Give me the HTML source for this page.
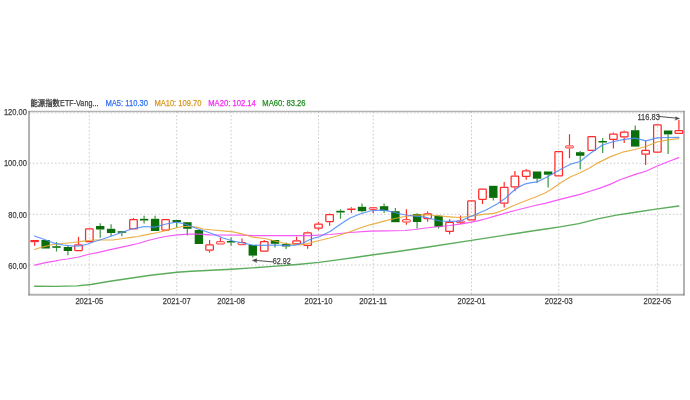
<!DOCTYPE html>
<html lang="zh"><head><meta charset="utf-8"><title>K线图</title>
<style>html,body{margin:0;padding:0;background:#fff}body{width:690px;height:400px;overflow:hidden}</style>
</head><body>
<svg width="690" height="400" viewBox="0 0 690 400" style="display:block;will-change:transform;filter:blur(0.3px)">
<g stroke="#cdcdcd" stroke-width="1" stroke-dasharray="1.7,2.0" fill="none">
<line x1="29.0" y1="163.2" x2="684.0" y2="163.2"/>
<line x1="29.0" y1="214.3" x2="684.0" y2="214.3"/>
<line x1="29.0" y1="265.0" x2="684.0" y2="265.0"/>
<line x1="29.0" y1="113.0" x2="684.0" y2="113.0" stroke="#d8d8d8"/>
<line x1="89.3" y1="111.4" x2="89.3" y2="294.3"/>
<line x1="176.7" y1="111.4" x2="176.7" y2="294.3"/>
<line x1="231.1" y1="111.4" x2="231.1" y2="294.3"/>
<line x1="318.5" y1="111.4" x2="318.5" y2="294.3"/>
<line x1="373.2" y1="111.4" x2="373.2" y2="294.3"/>
<line x1="471.5" y1="111.4" x2="471.5" y2="294.3"/>
<line x1="558.7" y1="111.4" x2="558.7" y2="294.3"/>
<line x1="657.4" y1="111.4" x2="657.4" y2="294.3"/>
</g>
<line x1="34.6" y1="242.2" x2="34.6" y2="245.8" stroke="#ff2a2a" stroke-width="1.2"/>
<rect x="30.4" y="240.0" width="8.4" height="2.2" fill="#ff2a2a"/>
<rect x="41.4" y="240.0" width="8.4" height="8.5" fill="#0a6e0a"/>
<line x1="56.5" y1="242.0" x2="56.5" y2="246.2" stroke="#3a963a" stroke-width="1.2"/>
<line x1="56.5" y1="247.8" x2="56.5" y2="251.5" stroke="#3a963a" stroke-width="1.2"/>
<rect x="52.3" y="246.2" width="8.4" height="1.6" fill="#0a6e0a"/>
<line x1="67.9" y1="245.5" x2="67.9" y2="247.0" stroke="#3a963a" stroke-width="1.2"/>
<line x1="67.9" y1="251.0" x2="67.9" y2="255.2" stroke="#3a963a" stroke-width="1.2"/>
<rect x="63.7" y="247.0" width="8.4" height="4.0" fill="#0a6e0a"/>
<line x1="78.5" y1="236.8" x2="78.5" y2="244.2" stroke="#ff2a2a" stroke-width="1.2"/>
<rect x="74.72" y="244.82" width="7.55" height="5.75" rx="0.7" fill="none" stroke="#ff2a2a" stroke-width="1.25"/>
<rect x="85.57" y="228.82" width="7.55" height="12.75" rx="0.7" fill="none" stroke="#ff2a2a" stroke-width="1.25"/>
<line x1="100.2" y1="223.2" x2="100.2" y2="226.0" stroke="#3a963a" stroke-width="1.2"/>
<line x1="100.2" y1="229.5" x2="100.2" y2="237.8" stroke="#3a963a" stroke-width="1.2"/>
<rect x="96.0" y="226.0" width="8.4" height="3.5" fill="#0a6e0a"/>
<line x1="111.1" y1="224.2" x2="111.1" y2="228.8" stroke="#3a963a" stroke-width="1.2"/>
<line x1="111.1" y1="233.0" x2="111.1" y2="236.2" stroke="#3a963a" stroke-width="1.2"/>
<rect x="106.9" y="228.8" width="8.4" height="4.2" fill="#0a6e0a"/>
<line x1="121.9" y1="232.8" x2="121.9" y2="236.2" stroke="#3a963a" stroke-width="1.2"/>
<rect x="117.7" y="231.2" width="8.4" height="1.6" fill="#0a6e0a"/>
<line x1="133.5" y1="218.0" x2="133.5" y2="219.0" stroke="#ff2a2a" stroke-width="1.2"/>
<rect x="129.72" y="219.62" width="7.55" height="9.25" rx="0.7" fill="none" stroke="#ff2a2a" stroke-width="1.25"/>
<line x1="144.1" y1="215.8" x2="144.1" y2="218.8" stroke="#3a963a" stroke-width="1.2"/>
<line x1="144.1" y1="220.5" x2="144.1" y2="223.5" stroke="#3a963a" stroke-width="1.2"/>
<rect x="139.9" y="218.8" width="8.4" height="1.7" fill="#0a6e0a"/>
<line x1="155.1" y1="215.8" x2="155.1" y2="218.8" stroke="#3a963a" stroke-width="1.2"/>
<rect x="150.9" y="218.8" width="8.4" height="12.2" fill="#0a6e0a"/>
<rect x="161.82" y="219.62" width="7.55" height="10.45" rx="0.7" fill="none" stroke="#ff2a2a" stroke-width="1.25"/>
<line x1="176.7" y1="222.2" x2="176.7" y2="227.5" stroke="#3a963a" stroke-width="1.2"/>
<rect x="172.5" y="220.0" width="8.4" height="2.2" fill="#0a6e0a"/>
<line x1="187.3" y1="228.8" x2="187.3" y2="235.5" stroke="#3a963a" stroke-width="1.2"/>
<rect x="183.2" y="222.2" width="8.4" height="6.6" fill="#0a6e0a"/>
<line x1="198.9" y1="229.2" x2="198.9" y2="230.0" stroke="#3a963a" stroke-width="1.2"/>
<rect x="194.7" y="230.0" width="8.4" height="14.0" fill="#0a6e0a"/>
<line x1="209.6" y1="240.0" x2="209.6" y2="244.3" stroke="#ff2a2a" stroke-width="1.2"/>
<line x1="209.6" y1="250.8" x2="209.6" y2="252.6" stroke="#ff2a2a" stroke-width="1.2"/>
<rect x="205.82" y="244.93" width="7.55" height="5.25" rx="0.7" fill="none" stroke="#ff2a2a" stroke-width="1.25"/>
<line x1="220.4" y1="237.5" x2="220.4" y2="241.2" stroke="#ff2a2a" stroke-width="1.2"/>
<rect x="216.50" y="241.70" width="7.80" height="2.30" rx="0.5" fill="none" stroke="#ff2a2a" stroke-width="1.0"/>
<line x1="231.1" y1="237.5" x2="231.1" y2="241.0" stroke="#3a963a" stroke-width="1.2"/>
<line x1="231.1" y1="242.5" x2="231.1" y2="245.8" stroke="#3a963a" stroke-width="1.2"/>
<rect x="226.9" y="241.0" width="8.4" height="1.5" fill="#0a6e0a"/>
<line x1="242.0" y1="238.5" x2="242.0" y2="242.0" stroke="#ff2a2a" stroke-width="1.2"/>
<rect x="238.10" y="242.50" width="7.80" height="2.20" rx="0.5" fill="none" stroke="#ff2a2a" stroke-width="1.0"/>
<line x1="252.8" y1="255.6" x2="252.8" y2="257.6" stroke="#3a963a" stroke-width="1.2"/>
<rect x="248.6" y="245.0" width="8.4" height="10.6" fill="#0a6e0a"/>
<line x1="264.2" y1="240.0" x2="264.2" y2="241.0" stroke="#ff2a2a" stroke-width="1.2"/>
<rect x="260.48" y="241.62" width="7.55" height="9.55" rx="0.7" fill="none" stroke="#ff2a2a" stroke-width="1.25"/>
<line x1="275.0" y1="243.8" x2="275.0" y2="247.5" stroke="#3a963a" stroke-width="1.2"/>
<rect x="270.8" y="240.0" width="8.4" height="3.8" fill="#0a6e0a"/>
<line x1="286.1" y1="242.5" x2="286.1" y2="244.0" stroke="#3a963a" stroke-width="1.2"/>
<line x1="286.1" y1="246.5" x2="286.1" y2="249.0" stroke="#3a963a" stroke-width="1.2"/>
<rect x="281.9" y="244.0" width="8.4" height="2.5" fill="#0a6e0a"/>
<line x1="296.6" y1="236.8" x2="296.6" y2="240.2" stroke="#ff2a2a" stroke-width="1.2"/>
<rect x="292.83" y="240.82" width="7.55" height="3.05" rx="0.7" fill="none" stroke="#ff2a2a" stroke-width="1.25"/>
<line x1="307.6" y1="231.5" x2="307.6" y2="232.2" stroke="#ff2a2a" stroke-width="1.2"/>
<line x1="307.6" y1="246.0" x2="307.6" y2="248.8" stroke="#ff2a2a" stroke-width="1.2"/>
<rect x="303.83" y="232.82" width="7.55" height="12.55" rx="0.7" fill="none" stroke="#ff2a2a" stroke-width="1.25"/>
<line x1="318.5" y1="221.8" x2="318.5" y2="223.5" stroke="#ff2a2a" stroke-width="1.2"/>
<line x1="318.5" y1="228.8" x2="318.5" y2="230.2" stroke="#ff2a2a" stroke-width="1.2"/>
<rect x="314.73" y="224.12" width="7.55" height="4.05" rx="0.7" fill="none" stroke="#ff2a2a" stroke-width="1.25"/>
<line x1="329.6" y1="213.5" x2="329.6" y2="214.0" stroke="#ff2a2a" stroke-width="1.2"/>
<line x1="329.6" y1="222.2" x2="329.6" y2="225.8" stroke="#ff2a2a" stroke-width="1.2"/>
<rect x="325.83" y="214.62" width="7.55" height="6.95" rx="0.7" fill="none" stroke="#ff2a2a" stroke-width="1.25"/>
<line x1="340.5" y1="209.2" x2="340.5" y2="210.8" stroke="#3a963a" stroke-width="1.2"/>
<line x1="340.5" y1="212.5" x2="340.5" y2="218.8" stroke="#3a963a" stroke-width="1.2"/>
<rect x="336.3" y="210.8" width="8.4" height="1.7" fill="#0a6e0a"/>
<line x1="351.4" y1="207.2" x2="351.4" y2="208.5" stroke="#ff2a2a" stroke-width="1.2"/>
<line x1="351.4" y1="210.0" x2="351.4" y2="213.0" stroke="#ff2a2a" stroke-width="1.2"/>
<rect x="347.2" y="208.5" width="8.4" height="1.5" fill="#ff2a2a"/>
<line x1="362.0" y1="203.5" x2="362.0" y2="206.8" stroke="#3a963a" stroke-width="1.2"/>
<line x1="362.0" y1="211.2" x2="362.0" y2="212.5" stroke="#3a963a" stroke-width="1.2"/>
<rect x="357.8" y="206.8" width="8.4" height="4.4" fill="#0a6e0a"/>
<line x1="373.2" y1="209.8" x2="373.2" y2="213.2" stroke="#ff2a2a" stroke-width="1.2"/>
<rect x="369.35" y="207.70" width="7.80" height="1.60" rx="0.5" fill="none" stroke="#ff2a2a" stroke-width="1.0"/>
<line x1="384.1" y1="203.5" x2="384.1" y2="206.2" stroke="#3a963a" stroke-width="1.2"/>
<line x1="384.1" y1="210.8" x2="384.1" y2="213.0" stroke="#3a963a" stroke-width="1.2"/>
<rect x="379.9" y="206.2" width="8.4" height="4.6" fill="#0a6e0a"/>
<line x1="395.4" y1="208.0" x2="395.4" y2="211.2" stroke="#3a963a" stroke-width="1.2"/>
<rect x="391.2" y="211.2" width="8.4" height="11.0" fill="#0a6e0a"/>
<line x1="406.4" y1="209.2" x2="406.4" y2="219.2" stroke="#ff2a2a" stroke-width="1.2"/>
<line x1="406.4" y1="222.5" x2="406.4" y2="224.8" stroke="#ff2a2a" stroke-width="1.2"/>
<rect x="402.50" y="219.70" width="7.80" height="2.30" rx="0.5" fill="none" stroke="#ff2a2a" stroke-width="1.0"/>
<line x1="417.1" y1="213.2" x2="417.1" y2="214.0" stroke="#3a963a" stroke-width="1.2"/>
<line x1="417.1" y1="222.0" x2="417.1" y2="228.5" stroke="#3a963a" stroke-width="1.2"/>
<rect x="412.9" y="214.0" width="8.4" height="8.0" fill="#0a6e0a"/>
<line x1="427.6" y1="211.5" x2="427.6" y2="213.2" stroke="#ff2a2a" stroke-width="1.2"/>
<line x1="427.6" y1="219.2" x2="427.6" y2="221.8" stroke="#ff2a2a" stroke-width="1.2"/>
<rect x="423.83" y="213.82" width="7.55" height="4.75" rx="0.7" fill="none" stroke="#ff2a2a" stroke-width="1.25"/>
<line x1="438.6" y1="215.0" x2="438.6" y2="215.8" stroke="#3a963a" stroke-width="1.2"/>
<line x1="438.6" y1="226.8" x2="438.6" y2="228.5" stroke="#3a963a" stroke-width="1.2"/>
<rect x="434.4" y="215.8" width="8.4" height="11.0" fill="#0a6e0a"/>
<line x1="449.6" y1="219.2" x2="449.6" y2="221.8" stroke="#ff2a2a" stroke-width="1.2"/>
<line x1="449.6" y1="232.0" x2="449.6" y2="234.2" stroke="#ff2a2a" stroke-width="1.2"/>
<rect x="445.83" y="222.43" width="7.55" height="8.95" rx="0.7" fill="none" stroke="#ff2a2a" stroke-width="1.25"/>
<line x1="460.5" y1="215.5" x2="460.5" y2="220.5" stroke="#ff2a2a" stroke-width="1.2"/>
<line x1="460.5" y1="223.2" x2="460.5" y2="224.0" stroke="#ff2a2a" stroke-width="1.2"/>
<rect x="456.60" y="221.00" width="7.80" height="1.70" rx="0.5" fill="none" stroke="#ff2a2a" stroke-width="1.0"/>
<rect x="467.73" y="200.82" width="7.55" height="19.05" rx="0.7" fill="none" stroke="#ff2a2a" stroke-width="1.25"/>
<line x1="482.5" y1="199.9" x2="482.5" y2="204.0" stroke="#ff2a2a" stroke-width="1.2"/>
<rect x="478.73" y="189.22" width="7.55" height="10.05" rx="0.7" fill="none" stroke="#ff2a2a" stroke-width="1.25"/>
<line x1="493.3" y1="197.9" x2="493.3" y2="200.4" stroke="#3a963a" stroke-width="1.2"/>
<rect x="489.1" y="185.8" width="8.4" height="12.1" fill="#0a6e0a"/>
<line x1="504.2" y1="182.0" x2="504.2" y2="186.7" stroke="#ff2a2a" stroke-width="1.2"/>
<line x1="504.2" y1="203.8" x2="504.2" y2="207.6" stroke="#ff2a2a" stroke-width="1.2"/>
<rect x="500.43" y="187.32" width="7.55" height="15.85" rx="0.7" fill="none" stroke="#ff2a2a" stroke-width="1.25"/>
<line x1="514.9" y1="171.0" x2="514.9" y2="175.4" stroke="#ff2a2a" stroke-width="1.2"/>
<line x1="514.9" y1="187.5" x2="514.9" y2="191.3" stroke="#ff2a2a" stroke-width="1.2"/>
<rect x="511.12" y="176.03" width="7.55" height="10.85" rx="0.7" fill="none" stroke="#ff2a2a" stroke-width="1.25"/>
<line x1="526.2" y1="169.0" x2="526.2" y2="170.2" stroke="#ff2a2a" stroke-width="1.2"/>
<line x1="526.2" y1="177.0" x2="526.2" y2="179.8" stroke="#ff2a2a" stroke-width="1.2"/>
<rect x="522.43" y="170.82" width="7.55" height="5.55" rx="0.7" fill="none" stroke="#ff2a2a" stroke-width="1.25"/>
<line x1="537.1" y1="178.7" x2="537.1" y2="182.8" stroke="#3a963a" stroke-width="1.2"/>
<rect x="532.9" y="171.5" width="8.4" height="7.2" fill="#0a6e0a"/>
<line x1="548.1" y1="174.7" x2="548.1" y2="187.4" stroke="#3a963a" stroke-width="1.2"/>
<rect x="543.9" y="171.5" width="8.4" height="3.2" fill="#0a6e0a"/>
<rect x="554.93" y="151.62" width="7.55" height="24.25" rx="0.7" fill="none" stroke="#ff2a2a" stroke-width="1.25"/>
<line x1="569.5" y1="134.2" x2="569.5" y2="145.4" stroke="#ff2a2a" stroke-width="1.2"/>
<line x1="569.5" y1="148.4" x2="569.5" y2="158.2" stroke="#ff2a2a" stroke-width="1.2"/>
<rect x="565.60" y="145.90" width="7.80" height="2.00" rx="0.5" fill="none" stroke="#ff2a2a" stroke-width="1.0"/>
<line x1="580.2" y1="151.0" x2="580.2" y2="152.2" stroke="#3a963a" stroke-width="1.2"/>
<line x1="580.2" y1="155.8" x2="580.2" y2="169.3" stroke="#3a963a" stroke-width="1.2"/>
<rect x="576.0" y="152.2" width="8.4" height="3.6" fill="#0a6e0a"/>
<rect x="587.98" y="136.62" width="7.55" height="13.75" rx="0.7" fill="none" stroke="#ff2a2a" stroke-width="1.25"/>
<line x1="602.7" y1="138.1" x2="602.7" y2="141.0" stroke="#3a963a" stroke-width="1.2"/>
<line x1="602.7" y1="142.5" x2="602.7" y2="153.1" stroke="#3a963a" stroke-width="1.2"/>
<rect x="598.5" y="141.0" width="8.4" height="1.5" fill="#0a6e0a"/>
<line x1="613.4" y1="132.5" x2="613.4" y2="133.5" stroke="#ff2a2a" stroke-width="1.2"/>
<line x1="613.4" y1="140.0" x2="613.4" y2="148.5" stroke="#ff2a2a" stroke-width="1.2"/>
<rect x="609.62" y="134.12" width="7.55" height="5.25" rx="0.7" fill="none" stroke="#ff2a2a" stroke-width="1.25"/>
<line x1="624.2" y1="130.6" x2="624.2" y2="131.5" stroke="#ff2a2a" stroke-width="1.2"/>
<line x1="624.2" y1="137.5" x2="624.2" y2="143.1" stroke="#ff2a2a" stroke-width="1.2"/>
<rect x="620.48" y="132.12" width="7.55" height="4.75" rx="0.7" fill="none" stroke="#ff2a2a" stroke-width="1.25"/>
<line x1="635.2" y1="125.6" x2="635.2" y2="130.2" stroke="#3a963a" stroke-width="1.2"/>
<rect x="631.0" y="130.2" width="8.4" height="16.4" fill="#0a6e0a"/>
<line x1="645.6" y1="140.7" x2="645.6" y2="149.7" stroke="#ff2a2a" stroke-width="1.2"/>
<line x1="645.6" y1="154.8" x2="645.6" y2="164.9" stroke="#ff2a2a" stroke-width="1.2"/>
<rect x="641.83" y="150.32" width="7.55" height="3.85" rx="0.7" fill="none" stroke="#ff2a2a" stroke-width="1.25"/>
<rect x="653.62" y="124.83" width="7.55" height="27.35" rx="0.7" fill="none" stroke="#ff2a2a" stroke-width="1.25"/>
<line x1="668.1" y1="134.4" x2="668.1" y2="154.0" stroke="#3a963a" stroke-width="1.2"/>
<rect x="663.9" y="130.5" width="8.4" height="3.9" fill="#0a6e0a"/>
<line x1="678.9" y1="120.0" x2="678.9" y2="130.0" stroke="#ff2a2a" stroke-width="1.2"/>
<rect x="675.08" y="130.62" width="7.55" height="2.75" rx="0.7" fill="none" stroke="#ff2a2a" stroke-width="1.25"/>
<polyline points="34.7,286.2 55.0,286.4 77.0,285.9 90.8,284.5 110.0,281.3 130.3,278.3 150.6,275.3 177.0,272.2 191.2,271.2 211.4,270.2 231.7,269.2 251.8,267.9 272.8,266.4 293.8,264.8 300.0,264.3 318.8,262.4 337.7,259.9 356.5,257.3 373.5,254.8 394.2,252.0 413.0,249.2 430.0,246.8 471.4,240.4 505.4,235.1 533.6,230.8 547.7,228.7 560.0,226.9 578.8,223.6 597.7,218.9 616.5,215.1 635.4,212.3 654.2,209.4 678.8,206.0" fill="none" stroke="#44a044" stroke-width="1.4" stroke-opacity="0.88" stroke-linejoin="round" stroke-linecap="round"/>
<polyline points="34.7,265.2 45.5,262.7 56.0,260.9 60.0,260.0 67.4,259.0 78.8,257.0 88.0,254.5 99.8,252.2 110.3,249.6 120.8,247.3 127.8,245.9 138.0,243.5 148.0,240.5 158.0,238.0 168.0,236.0 178.0,234.8 188.0,234.2 198.0,234.2 210.0,234.8 243.0,235.2 253.0,235.6 310.0,235.7 330.0,234.5 350.0,232.5 370.0,231.2 385.0,230.8 405.0,230.5 415.0,229.5 422.0,228.5 430.0,227.5 440.0,226.5 450.0,225.5 460.0,224.2 470.0,222.3 480.0,220.3 485.0,219.0 495.0,216.2 505.0,213.2 515.0,210.5 525.0,208.0 535.0,205.5 545.0,203.4 560.0,199.4 570.0,196.9 580.0,194.4 590.0,191.2 600.0,188.1 610.0,184.4 620.0,179.8 635.3,174.4 645.8,171.2 657.3,166.0 667.8,161.7 678.8,157.6" fill="none" stroke="#f442f4" stroke-width="1.2" stroke-opacity="0.88" stroke-linejoin="round" stroke-linecap="round"/>
<polyline points="34.5,249.5 43.0,246.8 53.0,244.5 63.0,243.5 73.0,242.5 83.0,241.2 93.0,240.0 103.0,240.0 113.0,240.0 123.0,238.5 133.0,237.2 138.0,236.5 143.0,235.3 148.0,234.4 158.0,232.5 168.0,230.0 178.0,227.5 183.0,226.5 190.0,226.5 198.0,227.4 203.0,229.0 213.0,230.0 223.0,230.8 233.0,231.8 243.0,234.2 253.0,237.2 265.0,238.5 275.0,241.0 285.0,243.5 295.0,244.5 300.0,245.0 305.0,244.2 310.0,243.0 315.0,241.5 330.0,238.0 340.0,235.0 350.0,231.8 360.0,228.0 370.0,224.8 375.0,223.7 385.0,220.8 395.0,218.5 405.0,216.5 415.0,215.2 425.0,214.8 430.0,215.0 440.0,216.0 450.0,216.8 460.0,217.5 468.0,216.5 480.0,214.8 485.0,214.2 493.4,213.4 499.0,211.8 505.0,209.5 515.0,205.0 525.0,201.0 535.0,197.2 545.0,193.0 551.0,189.4 560.0,183.2 569.7,177.2 580.2,172.8 590.0,167.8 597.5,163.1 610.0,156.9 622.5,152.2 635.0,149.5 646.0,146.5 657.0,142.0 668.0,139.9 678.8,138.6" fill="none" stroke="#e6a62e" stroke-width="1.2" stroke-opacity="0.88" stroke-linejoin="round" stroke-linecap="round"/>
<polyline points="34.5,236.0 43.0,239.0 53.0,242.8 63.0,245.0 73.0,246.2 80.0,246.0 88.0,244.0 93.0,242.0 103.0,239.0 113.0,235.5 123.0,232.0 133.0,228.5 138.0,227.8 144.0,226.5 155.0,227.2 166.0,224.0 176.0,222.2 183.0,223.5 191.0,226.2 198.0,229.0 203.0,230.5 213.0,234.0 223.0,238.0 233.0,241.0 243.0,243.0 253.0,245.2 262.0,245.3 275.0,245.0 285.0,245.3 295.0,245.2 303.0,243.0 309.0,240.0 315.0,237.8 320.0,236.5 330.0,231.5 340.0,224.5 350.0,218.0 360.0,214.0 370.0,211.0 373.0,210.5 383.0,210.2 393.0,212.0 403.0,214.5 413.0,216.0 425.0,217.2 430.0,218.5 440.0,221.0 450.0,221.3 460.0,221.2 468.0,217.5 475.0,215.0 480.0,212.5 486.0,210.0 497.0,204.0 505.8,197.9 513.5,190.8 519.0,186.9 524.5,184.2 530.0,182.9 537.5,181.8 548.0,176.5 558.5,170.5 570.5,164.2 580.2,161.5 585.0,157.5 591.2,152.7 602.5,145.0 613.8,141.5 624.4,139.4 635.0,138.1 646.0,140.9 657.0,137.8 668.0,137.5 678.8,137.4" fill="none" stroke="#4d8bf7" stroke-width="1.2" stroke-opacity="0.88" stroke-linejoin="round" stroke-linecap="round"/>
<g stroke="#7a7a7a" stroke-opacity="0.58" fill="none" stroke-linecap="round">
<line x1="29.05" y1="111.7" x2="29.05" y2="294.6" stroke-width="2"/>
<line x1="684.0" y1="111.7" x2="684.0" y2="294.6" stroke-width="2"/>
<line x1="28.9" y1="111.45" x2="684.2" y2="111.45" stroke-width="1.5"/>
<line x1="29.2" y1="294.8" x2="683.9" y2="294.8" stroke-width="2"/>
</g>
<g font-family="'Liberation Sans','Noto Sans CJK SC',sans-serif" font-size="9.2" fill="#3e3e3e" stroke="#3e3e3e" stroke-width="0.25">
<text x="26.9" y="115.0" text-anchor="end" textLength="23.0" lengthAdjust="spacingAndGlyphs">120.00</text>
<text x="26.9" y="166.10000000000002" text-anchor="end" textLength="23.0" lengthAdjust="spacingAndGlyphs">100.00</text>
<text x="26.9" y="217.70000000000002" text-anchor="end" textLength="18.6" lengthAdjust="spacingAndGlyphs">80.00</text>
<text x="26.9" y="268.90000000000003" text-anchor="end" textLength="18.6" lengthAdjust="spacingAndGlyphs">60.00</text>
<text x="89.3" y="304.35" text-anchor="middle" textLength="27.8" lengthAdjust="spacingAndGlyphs">2021-05</text>
<text x="176.7" y="304.35" text-anchor="middle" textLength="27.8" lengthAdjust="spacingAndGlyphs">2021-07</text>
<text x="231.1" y="304.35" text-anchor="middle" textLength="27.8" lengthAdjust="spacingAndGlyphs">2021-08</text>
<text x="318.5" y="304.35" text-anchor="middle" textLength="27.8" lengthAdjust="spacingAndGlyphs">2021-10</text>
<text x="373.2" y="304.35" text-anchor="middle" textLength="27.8" lengthAdjust="spacingAndGlyphs">2021-11</text>
<text x="471.5" y="304.35" text-anchor="middle" textLength="27.8" lengthAdjust="spacingAndGlyphs">2022-01</text>
<text x="558.7" y="304.35" text-anchor="middle" textLength="27.8" lengthAdjust="spacingAndGlyphs">2022-03</text>
<text x="657.4" y="304.35" text-anchor="middle" textLength="27.8" lengthAdjust="spacingAndGlyphs">2022-05</text>
<text x="30.5" y="106.0" font-size="8.1" textLength="29.3" lengthAdjust="spacingAndGlyphs" stroke-width="0.3">能源指数</text>
<text x="60.1" y="106.1" text-anchor="start" textLength="38.3" lengthAdjust="spacingAndGlyphs">ETF-Vang...</text>
<text x="105.4" y="106.1" text-anchor="start" textLength="42.6" lengthAdjust="spacingAndGlyphs" fill="#2f6ff2" stroke="#2f6ff2">MA5: 110.30</text>
<text x="154.4" y="106.1" text-anchor="start" textLength="47.0" lengthAdjust="spacingAndGlyphs" fill="#d8951a" stroke="#d8951a">MA10: 109.70</text>
<text x="208.2" y="106.1" text-anchor="start" textLength="47.6" lengthAdjust="spacingAndGlyphs" fill="#f428f4" stroke="#f428f4">MA20: 102.14</text>
<text x="262.3" y="106.1" text-anchor="start" textLength="43.3" lengthAdjust="spacingAndGlyphs" fill="#1f8a1f" stroke="#1f8a1f">MA60: 83.26</text>
<text x="272.8" y="264.4" text-anchor="start" textLength="18.0" lengthAdjust="spacingAndGlyphs">62.92</text>
<text x="637.5" y="119.6" text-anchor="start" textLength="22.3" lengthAdjust="spacingAndGlyphs">116.83</text>
</g>
<g stroke="#3c3c3c" stroke-width="0.9" fill="#3c3c3c" stroke-linecap="round" stroke-linejoin="round">
<path d="M272.9,261.9 L255.4,260.4" fill="none"/>
<path d="M252.7,260.2 L256.9,258.7 L256.0,260.5 L256.6,262.2 Z" stroke-width="0.5"/>
<path d="M659.4,116.5 L677.0,118.2" fill="none"/>
<path d="M679.2,118.4 L675.4,116.9 L676.3,118.2 L675.1,119.8 Z" stroke-width="0.5"/>
</g>
</svg>
</body></html>
